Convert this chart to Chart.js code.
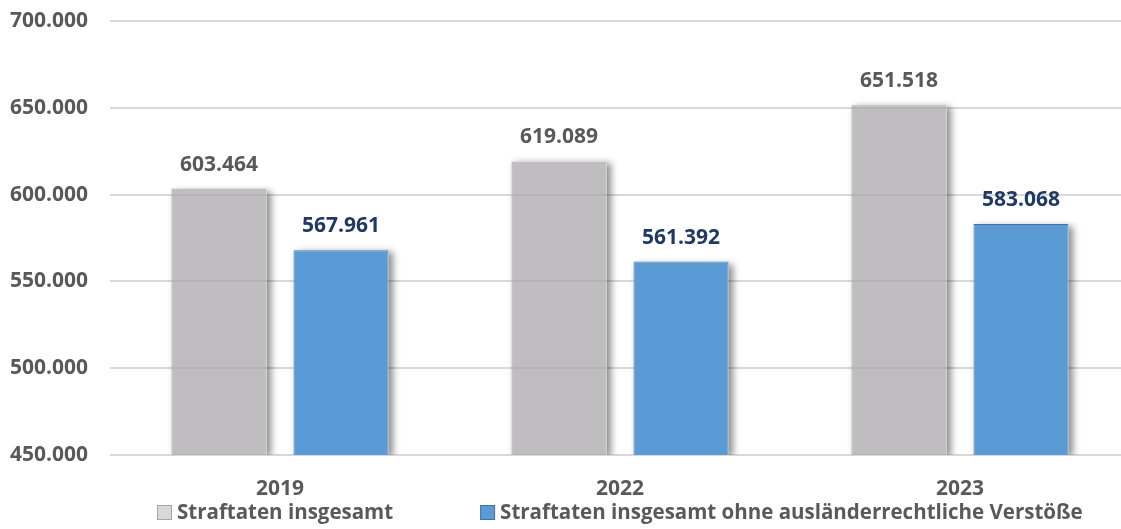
<!DOCTYPE html>
<html lang="de">
<head>
<meta charset="utf-8">
<title>Straftaten</title>
<script src="https://cdn.jsdelivr.net/npm/chart.js@4.4.1/dist/chart.umd.min.js"></script>
<style>
  html, body { margin: 0; padding: 0; background: #fff; overflow: hidden; }
  .chart-wrapper { position: relative; width: 1240px; height: 529px; }
</style>
</head>
<body>
<div class="chart-wrapper">
  <canvas id="chart"></canvas>
</div>
<script>
// Daten
const years = ['2019', '2022', '2023'];
const straftatenGesamt = [603464, 619089, 651518];
const straftatenOhneAuslR = [567961, 561392, 583068];
const seriesNames = ['Straftaten insgesamt', 'Straftaten insgesamt ohne ausländerrechtliche Verstöße'];
const yTicks = [450000, 500000, 550000, 600000, 650000, 700000];

const FONT = '"Open Sans", "DejaVu Sans", sans-serif';
const TEXT_GREY = '#595959';

const fmt = v => String(v).replace(/\B(?=(\d{3})+(?!\d))/g, '.');

// Schatten rechts neben den Balken (ohne unter den halbtransparenten Balken zu scheinen)
const barShadow = {
  id: 'barShadow',
  beforeDatasetsDraw(chart) {
    const ctx = chart.ctx;
    const area = chart.chartArea;
    chart.data.datasets.forEach((ds, i) => {
      chart.getDatasetMeta(i).data.forEach(bar => {
        const left = bar.x - bar.width / 2;
        const top = bar.y;
        const w = bar.width;
        const h = Math.min(bar.base, area.bottom) - top;
        ctx.save();
        ctx.beginPath();
        ctx.rect(area.left, area.top - 20, area.right - area.left + 20, area.bottom - area.top + 20);
        ctx.rect(left, top, w, h);
        ctx.clip('evenodd');
        ctx.shadowColor = 'rgba(0,0,0,0.45)';
        ctx.shadowBlur = 7;
        ctx.shadowOffsetX = 4;
        ctx.shadowOffsetY = 2;
        ctx.fillStyle = '#fff';
        ctx.fillRect(left, top, w, h);
        ctx.restore();
      });
    });
  }
};

// Werte über den Balken
const valueLabels = {
  id: 'valueLabels',
  afterDatasetsDraw(chart) {
    const ctx = chart.ctx;
    ctx.save();
    ctx.font = 'bold 21px ' + FONT;
    ctx.textAlign = 'center';
    ctx.textBaseline = 'middle';
    chart.data.datasets.forEach((ds, i) => {
      ctx.fillStyle = i === 0 ? TEXT_GREY : '#203864';
      chart.getDatasetMeta(i).data.forEach((bar, j) => {
        ctx.fillText(fmt(ds.data[j]), bar.x, bar.y - 24);
      });
    });
    ctx.restore();
  }
};

// Legende unten, zentriert unter dem Diagrammbereich
const bottomLegend = {
  id: 'bottomLegend',
  afterDraw(chart) {
    const ctx = chart.ctx;
    const area = chart.chartArea;
    const box = 14, gapText = 6, gapItems = 87, y = 512;
    ctx.save();
    ctx.font = 'bold 20.5px ' + FONT;
    ctx.textBaseline = 'middle';
    const widths = chart.data.datasets.map(ds => box + gapText + ctx.measureText(ds.label).width);
    const total = widths.reduce((a, b) => a + b, 0) + gapItems * (widths.length - 1);
    let x = Math.round((area.left + area.right) / 2 - total / 2);
    chart.data.datasets.forEach((ds, i) => {
      ctx.fillStyle = ds.legendColor;
      ctx.fillRect(x + 0.5, y - box / 2 + 0.5, box, box);
      ctx.strokeStyle = ds.borderColor;
      ctx.lineWidth = 1;
      ctx.strokeRect(x + 0.5, y - box / 2 + 0.5, box, box);
      ctx.fillStyle = TEXT_GREY;
      ctx.fillText(ds.label, x + box + gapText, y + 1);
      x += widths[i] + gapItems;
    });
    ctx.restore();
  }
};

new Chart(document.getElementById('chart'), {
  type: 'bar',
  data: {
    labels: years,
    datasets: [
      {
        label: seriesNames[0],
        data: straftatenGesamt,
        backgroundColor: 'rgba(168,166,168,0.74)',
        borderColor: '#a5a5a5',
        legendColor: '#d9d9d9',
        borderWidth: 1,
        categoryPercentage: 0.718,
        barPercentage: 0.779
      },
      {
        label: seriesNames[1],
        data: straftatenOhneAuslR,
        backgroundColor: '#5b9bd5',
        borderColor: '#41719c',
        legendColor: '#5b9bd5',
        borderWidth: 1,
        categoryPercentage: 0.718,
        barPercentage: 0.779
      }
    ]
  },
  options: {
    responsive: true,
    maintainAspectRatio: false,
    animation: false,
    layout: { padding: { left: 9, right: 110, top: 21, bottom: 34 } },
    plugins: {
      legend: { display: false },
      tooltip: { enabled: false }
    },
    scales: {
      x: {
        grid: { display: false },
        border: { display: false },
        afterFit: scale => {
          scale.height = 40;
          scale.paddingLeft = 0;
          scale.paddingRight = 0;
        },
        ticks: {
          color: TEXT_GREY,
          font: { family: FONT, size: 21, weight: 'bold' },
          padding: 13,
          maxRotation: 0
        }
      },
      y: {
        min: yTicks[0],
        max: yTicks[yTicks.length - 1],
        afterBuildTicks: scale => { scale.ticks = yTicks.map(v => ({ value: v })); },
        afterFit: scale => {
          scale.width = 101;
          scale.paddingTop = 0;
          scale.paddingBottom = 0;
        },
        grid: { color: '#d9d9d9', lineWidth: 2, drawTicks: false },
        border: { display: false },
        ticks: {
          color: TEXT_GREY,
          font: { family: FONT, size: 21, weight: 'bold' },
          padding: 22,
          callback: v => fmt(v)
        }
      }
    }
  },
  plugins: [barShadow, valueLabels, bottomLegend]
});
</script>
</body>
</html>
